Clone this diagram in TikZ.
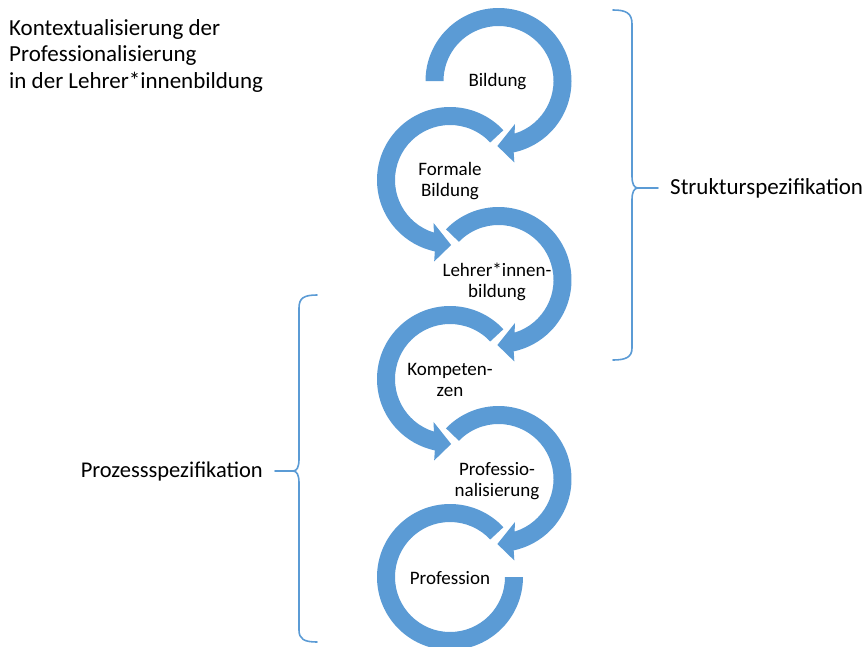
\documentclass[tikz,border=0pt]{standalone}
\usepackage{fontspec}
\setmainfont{Carlito}
\usetikzlibrary{positioning}
\definecolor{ringblue}{RGB}{91,155,213}

\begin{document}
\begin{tikzpicture}[x=1pt, y=1pt, node distance=12pt and 12pt,
    every node/.style={inner sep=0pt, text=black},
    ringtext/.style={font=\fontsize{19}{21}\selectfont, align=center},
    sidetext/.style={font=\fontsize{23}{26.5}\selectfont, align=left},
    brace/.style={draw=ringblue, line width=1.6pt, line cap=round, line join=round},
    ring/.style={fill=ringblue}]
   \useasboundingbox (0,0) rectangle (865,-646);

   % centres of the rings, right and left column
   \coordinate (c1) at (498.5,-81);
   \coordinate (c2) at (450,-180);
   \coordinate (c3) at (498.5,-280);
   \coordinate (c4) at (450,-379);
   \coordinate (c5) at (498.5,-479);
   \coordinate (c6) at (450,-577);

   % rings with arrow heads
   \fill[ring, shift={(c1)}] (180:73) arc[start angle=180, end angle=-78, radius=73]
      -- (-79:83) -- (-91:65) -- (-69:46) -- (-73:55)
      arc[start angle=-73, end angle=180, radius=55] -- cycle;
   \fill[ring, shift={(c2)}] (43:73) arc[start angle=43, end angle=258, radius=73]
      -- (259:83) -- (271:65) -- (249:46) -- (253:55)
      arc[start angle=253, end angle=43, radius=55] -- cycle;
   \fill[ring, shift={(c3)}] (136:73) arc[start angle=136, end angle=-78, radius=73]
      -- (-79:83) -- (-91:65) -- (-69:46) -- (-73:55)
      arc[start angle=-73, end angle=136, radius=55] -- cycle;
   \fill[ring, shift={(c4)}] (43:73) arc[start angle=43, end angle=258, radius=73]
      -- (259:83) -- (271:65) -- (249:46) -- (253:55)
      arc[start angle=253, end angle=43, radius=55] -- cycle;
   \fill[ring, shift={(c5)}] (136:73) arc[start angle=136, end angle=-78, radius=73]
      -- (-79:83) -- (-91:65) -- (-69:46) -- (-73:55)
      arc[start angle=-73, end angle=136, radius=55] -- cycle;
   \fill[ring, shift={(c6)}] (43:73) arc[start angle=43, end angle=360, radius=73]
      -- (0:55) arc[start angle=360, end angle=43, radius=55] -- cycle;

   \node[ringtext] (bildung) at (497.5,-82) {Bildung};
   \node[ringtext] (formal) at (450,-181) {Formale\\Bildung};
   \node[ringtext] (lehrer) at (497,-282) {Lehrer*innen-\\bildung};
   \node[ringtext] (kompetenz) at (450,-380) {Kompeten-\\zen};
   \node[ringtext] (profi) at (497,-481) {Professio-\\nalisierung};
   \node[ringtext] (profession) at (450,-578) {Profession};

   \node[sidetext, anchor=north west] (titel) at (9,-19)
      {Kontextualisierung der\\Professionalisierung\\in der Lehrer*innenbildung};

   % right brace
   \coordinate (tipR) at (658,-188);
   \draw[brace] (613,-10) .. controls (626,-10) and (632,-13) .. (632,-24) -- (632,-176)
      .. controls (632,-184) and (634,-188) .. (638,-188)
      .. controls (634,-188) and (632,-192) .. (632,-200) -- (632,-348)
      .. controls (632,-357) and (626,-360) .. (613,-360);
   \draw[brace] (638,-188) -- (tipR);
   \node[sidetext, right=of tipR] (struktur) {Strukturspezifikation};

   % left brace
   \coordinate (tipL) at (275,-471);
   \draw[brace] (317,-295) .. controls (304,-295) and (299,-298) .. (299,-308) -- (299,-459)
      .. controls (299,-467) and (297,-471) .. (293,-471)
      .. controls (297,-471) and (299,-475) .. (299,-483) -- (299,-630)
      .. controls (299,-639) and (304,-642) .. (317,-642);
   \draw[brace] (293,-471) -- (tipL);
   \node[sidetext, left=of tipL, font=\fontsize{22.5}{26}\selectfont] (prozess) {Prozessspezifikation};
\end{tikzpicture}
\end{document}
